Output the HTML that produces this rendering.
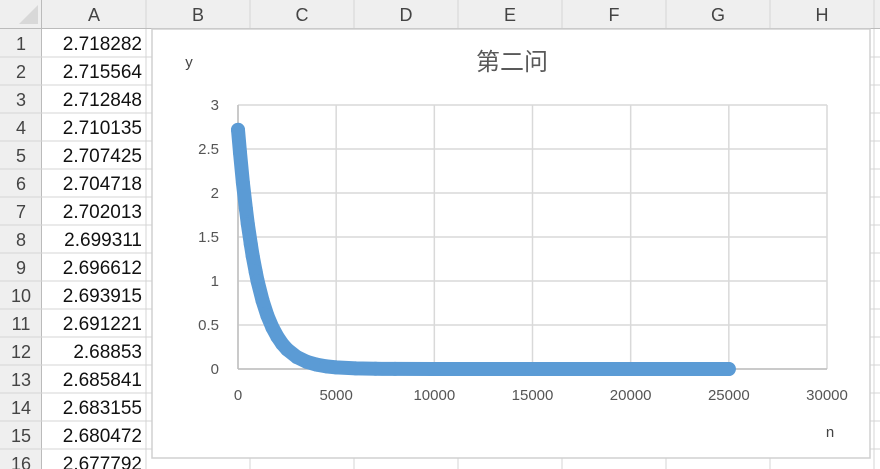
<!DOCTYPE html>
<html><head><meta charset="utf-8"><style>
body{margin:0;width:880px;height:469px;overflow:hidden;background:#fff;font-family:"Liberation Sans","Noto Sans CJK SC",sans-serif}
svg{display:block}
</style></head><body>
<svg width="880" height="469">
<g id="sheet"></g>
<g id="chart"></g>
</svg>
<script>
const colLetters=["A","B","C","D","E","F","G","H"];
const cellValues=["2.718282","2.715564","2.712848","2.710135","2.707425","2.704718","2.702013","2.699311","2.696612","2.693915","2.691221","2.68853","2.685841","2.683155","2.680472","2.677792"];
// chart data (n, y)
const nValues=[0,100,250,400,500,650,750,900,1000,1250,1500,1750,2000,2250,2500,3000,3500,4000,4500,5000,6000,7000,8000,10000,15000,20000,25000];
const yValues=[2.718,2.459,2.116,1.822,1.648,1.419,1.283,1.105,0.999,0.778,0.606,0.472,0.368,0.286,0.223,0.135,0.082,0.050,0.030,0.018,0.007,0.0025,0.001,0,0,0,0];
const xTicks=[0,5000,10000,15000,20000,25000,30000];
const yTicks=[0,0.5,1,1.5,2,2.5,3];
const yTickLabels=["0","0.5","1","1.5","2","2.5","3"];
const NS="http://www.w3.org/2000/svg";
function mk(p,t,a,txt){const e=document.createElementNS(NS,t);for(const k in a)e.setAttribute(k,a[k]);if(txt!==undefined)e.textContent=txt;p.appendChild(e);return e;}
const sheet=document.getElementById('sheet');
mk(sheet,'rect',{x:0,y:0,width:880,height:29,fill:'#efefef'});
mk(sheet,'rect',{x:0,y:0,width:42,height:469,fill:'#efefef'});
mk(sheet,'polygon',{points:'19,24 38,24 38,5',fill:'#d8d8d8'});
for(let i=0;i<colLetters.length;i++){
  const x0=42+i*104;
  mk(sheet,'line',{x1:x0+104,y1:0,x2:x0+104,y2:469,stroke:'#d4d4d4'});
  const t=mk(sheet,'text',{x:x0+52,y:21,'text-anchor':'middle','font-size':18,fill:'#444'},colLetters[i]);
  
  
}
mk(sheet,'line',{x1:0,y1:28.5,x2:880,y2:28.5,stroke:'#bbb'});
mk(sheet,'line',{x1:41.5,y1:0,x2:41.5,y2:469,stroke:'#bbb'});
for(let r=0;r<16;r++){
  const y=29+r*28;
  mk(sheet,'line',{x1:0,y1:y+28,x2:880,y2:y+28,stroke:'#d4d4d4'});
  const rn=mk(sheet,'text',{x:21,y:y+21,'text-anchor':'middle','font-size':18,fill:'#444'},String(r+1));
  
  
  const c=mk(sheet,'text',{x:142,y:y+21,'text-anchor':'end','font-size':19,fill:'#111'},cellValues[r]);
  
  
}
// chart
const ch=document.getElementById('chart');
mk(ch,'rect',{x:152,y:29,width:718,height:429,fill:'#fff',stroke:'#d0d0d0','stroke-width':1.5});
const X0=238,X1=827,Y0=369,Y1=105;
const sx=v=>X0+(v-0)/(30000)*(X1-X0);
const sy=v=>Y0-(v/3)*(Y0-Y1);
for(const t of xTicks){mk(ch,'line',{x1:sx(t),y1:Y1,x2:sx(t),y2:Y0,stroke:'#d9d9d9','stroke-width':1.5});
  const l=mk(ch,'text',{x:sx(t),y:400,'text-anchor':'middle','font-size':15,fill:'#555'},String(t));
  }
yTicks.forEach((t,i)=>{mk(ch,'line',{x1:X0,y1:sy(t),x2:X1,y2:sy(t),stroke:'#d9d9d9','stroke-width':1.5});
  const l=mk(ch,'text',{x:219,y:sy(t)+5,'text-anchor':'end','font-size':15,fill:'#555'},yTickLabels[i]);
  });
mk(ch,'line',{x1:X0,y1:Y0,x2:X1,y2:Y0,stroke:'#bfbfbf','stroke-width':1.5});
mk(ch,'line',{x1:X0,y1:Y1,x2:X0,y2:Y0,stroke:'#bfbfbf','stroke-width':1.5});
const title=mk(ch,'text',{x:512,y:70,'text-anchor':'middle','font-size':24,fill:'#595959'},'第二问');

const yt=mk(ch,'text',{x:189,y:67,'text-anchor':'middle','font-size':15,fill:'#444'},'y');

const xt=mk(ch,'text',{x:830,y:437,'text-anchor':'middle','font-size':15,fill:'#444'},'n');

const pts=nValues.map((n,i)=>sx(n).toFixed(1)+','+sy(yValues[i]).toFixed(1)).join(' ');
const s=mk(ch,'polyline',{points:pts,fill:'none',stroke:'#5b9bd5','stroke-width':14,'stroke-linecap':'round','stroke-linejoin':'round'});

nValues.forEach((n,i)=>{const c=mk(ch,'circle',{cx:sx(n),cy:sy(yValues[i]),r:7,fill:'#5b9bd5'});
  });
</script>
</body></html>
